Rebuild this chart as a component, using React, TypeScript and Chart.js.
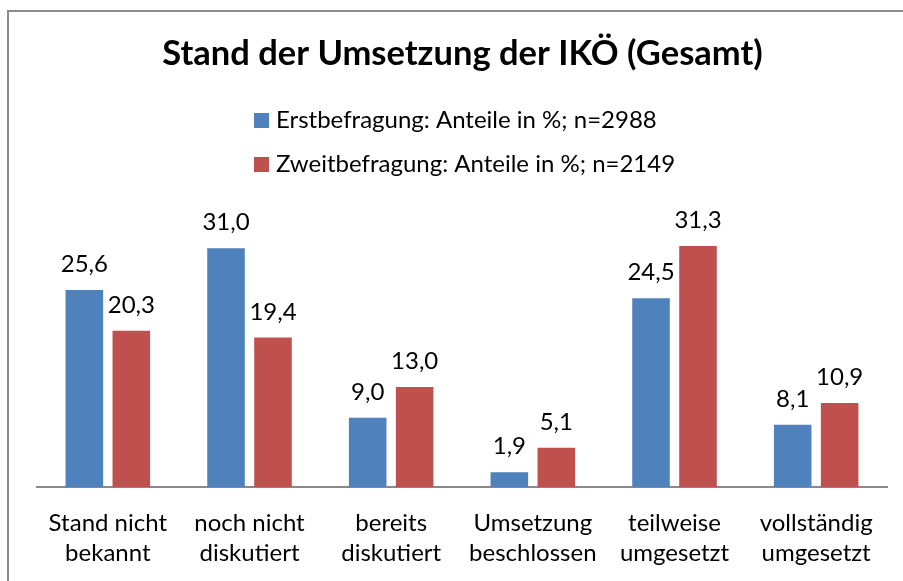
import React, { useEffect, useRef } from "react";
import { Chart, registerables } from "chart.js";

Chart.register(...registerables);

const categories: string[][] = [
  ["Stand nicht", "bekannt"],
  ["noch nicht", "diskutiert"],
  ["bereits", "diskutiert"],
  ["Umsetzung", "beschlossen"],
  ["teilweise", "umgesetzt"],
  ["vollständig", "umgesetzt"],
];
const erstValues = [25.6, 31.0, 9.0, 1.9, 24.5, 8.1];
const zweitValues = [20.3, 19.4, 13.0, 5.1, 31.3, 10.9];
const seriesLabels = [
  "Erstbefragung: Anteile in %; n=2988",
  "Zweitbefragung: Anteile in %; n=2149",
];
const titleText = "Stand der Umsetzung der IKÖ (Gesamt)";

const FONT = "Lato, 'Open Sans', sans-serif";

const overlayPlugin = {
  id: "overlay",
  afterDatasetsDraw(chart: any) {
    const ctx = chart.ctx;
    ctx.save();
    // data labels
    ctx.fillStyle = "#000";
    ctx.font = `24px ${FONT}`;
    ctx.textAlign = "center";
    ctx.textBaseline = "alphabetic";
    chart.data.datasets.forEach((ds: any, di: number) => {
      const meta = chart.getDatasetMeta(di);
      meta.data.forEach((bar: any, i: number) => {
        const v = ds.data[i] as number;
        ctx.fillText(v.toFixed(1).replace(".", ","), bar.x, bar.y - 18);
      });
    });
    // title
    ctx.font = `bold 34.5px ${FONT}`;
    ctx.textAlign = "center";
    ctx.fillText(titleText, 462.5, 65);
    // legend
    ctx.font = `24px ${FONT}`;
    ctx.textAlign = "left";
    const baselines = [128, 172];
    chart.data.datasets.forEach((ds: any, di: number) => {
      const b = baselines[di];
      ctx.fillStyle = ds.backgroundColor;
      ctx.fillRect(254, b - 15, 15, 15);
      ctx.fillStyle = "#000";
      ctx.fillText(ds.label, 276, b);
    });
    ctx.restore();
  },
};

export default function App() {
  const ref = useRef<HTMLCanvasElement | null>(null);
  useEffect(() => {
    if (!ref.current) return;
    const chart = new Chart(ref.current, {
      type: "bar",
      data: {
        labels: categories,
        datasets: [
          {
            label: seriesLabels[0],
            data: erstValues,
            backgroundColor: "#4F81BD",
            categoryPercentage: 0.663,
            barPercentage: 0.8,
          },
          {
            label: seriesLabels[1],
            data: zweitValues,
            backgroundColor: "#C0504D",
            categoryPercentage: 0.663,
            barPercentage: 0.8,
          },
        ],
      },
      options: {
        responsive: false,
        animation: false,
        devicePixelRatio: 1,
        layout: { padding: { left: 37, right: 16, top: 179, bottom: 0 } },
        plugins: {
          legend: { display: false },
          title: { display: false },
          tooltip: { enabled: false },
        },
        scales: {
          x: {
            grid: { display: false, drawTicks: false },
            border: { display: true, color: "#898989", width: 2 },
            ticks: {
              color: "#000",
              font: { family: FONT, size: 24, lineHeight: 1.27 },
              padding: 21,
              maxRotation: 0,
              autoSkip: false,
            },
            afterFit: (scale: any) => {
              scale.height = 94;
            },
          },
          y: {
            display: false,
            min: 0,
            max: 40,
          },
        },
      },
      plugins: [overlayPlugin],
    });
    return () => chart.destroy();
  }, []);
  return (
    <div
      style={{
        position: "fixed",
        left: 0,
        top: 0,
        width: 903,
        height: 581,
        overflow: "hidden",
        background: "#fff",
      }}
    >
      <div
        style={{
          position: "absolute",
          left: 7,
          top: 10,
          width: 1200,
          height: 1200,
          borderLeft: "2px solid #8c8c8c",
          borderTop: "2px solid #8c8c8c",
        }}
      />
      <canvas
        ref={ref}
        width={903}
        height={581}
        style={{ position: "absolute", left: 0, top: 0 }}
      />
    </div>
  );
}
